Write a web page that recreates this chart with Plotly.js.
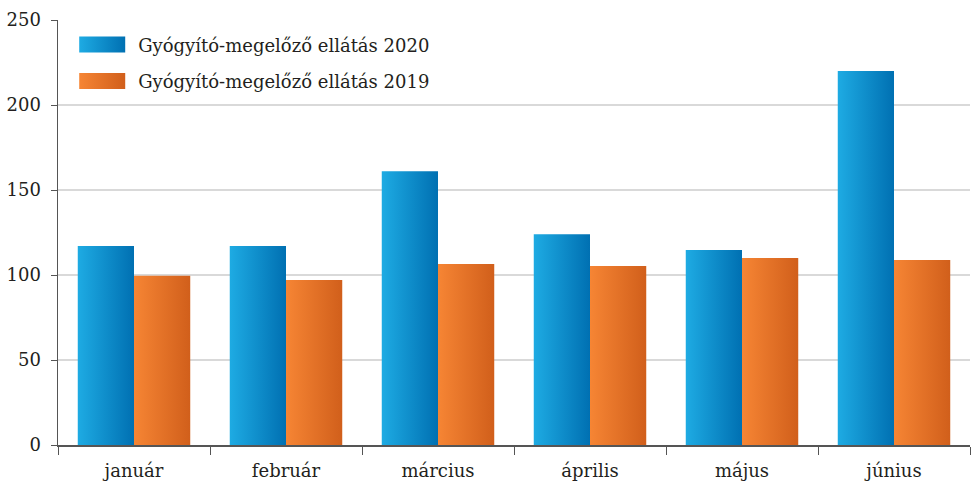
<!DOCTYPE html>
<html><head><meta charset="utf-8">
<script src="https://cdn.plot.ly/plotly-3.0.1.min.js"></script>
<style>body{margin:0;background:#fff}#chart{width:972px;height:482px}</style>
</head><body><div id="chart"></div>
<script>
const months = ["január","február","március","április","május","június"];
const series2020 = [117, 117, 161, 124, 114.7, 220];
const series2019 = [99.6, 97, 106.5, 105.3, 110, 108.8];
const names = ["Gyógyító-megelőző ellátás 2020","Gyógyító-megelőző ellátás 2019"];
const yTicks = [0,50,100,150,200,250];

const font = {family:"DejaVu Serif", size:18, color:"#231f20"};
const data = [
  {type:"bar", x:months, y:series2020, name:names[0], legendgroup:"a", marker:{color:"#0d8fd0"}},
  {type:"bar", x:months, y:series2019, name:names[1], legendgroup:"b", marker:{color:"#e4702a"}}
];
const layout = {
  width:972, height:482,
  margin:{l:58, r:2, t:20, b:37},
  font:font,
  paper_bgcolor:"#fff", plot_bgcolor:"#fff",
  barmode:"group", bargap:0.26, bargroupgap:0,
  showlegend:true,
  legend:{x:0.0112, y:0.985, xanchor:"left", yanchor:"top", font:font, bgcolor:"rgba(0,0,0,0)", itemwidth:60, traceorder:"grouped", tracegroupgap:10},
  xaxis:{showline:true, linecolor:"#555", linewidth:1.5, ticks:"outside", ticklen:8, tickcolor:"#555", tickson:"boundaries", showgrid:false, zeroline:false, tickfont:font, ticklabelstandoff:9},
  yaxis:{range:[0,250], tickvals:yTicks, ticktext:yTicks.map(String), showline:true, linecolor:"#555", linewidth:1.5, ticks:"outside", ticklen:6, tickcolor:"#555", gridcolor:"#d9d9d9", gridwidth:1.5, zeroline:false, tickfont:font, ticklabelstandoff:6}
};
Plotly.newPlot("chart", data, layout, {displayModeBar:false, staticPlot:true}).then(gd => {
  const svg = gd.querySelector("svg.main-svg");
  const ns = "http://www.w3.org/2000/svg";
  const defs = document.createElementNS(ns, "defs");
  const grads = [["g20","#1eabe3","#0070b2"],["g19","#f68534","#d15f1b"]];
  grads.forEach(([id,c1,c2]) => {
    const lg = document.createElementNS(ns, "linearGradient");
    lg.setAttribute("id", id); lg.setAttribute("x1","0"); lg.setAttribute("x2","1"); lg.setAttribute("y1","0"); lg.setAttribute("y2","0");
    [[0,c1],[1,c2]].forEach(([o,c]) => { const s=document.createElementNS(ns,"stop"); s.setAttribute("offset",o); s.setAttribute("stop-color",c); lg.appendChild(s); });
    defs.appendChild(lg);
  });
  svg.insertBefore(defs, svg.firstChild);
  gd.querySelectorAll(".barlayer .trace.bars").forEach((t,i) => {
    t.querySelectorAll("path").forEach(p => { p.style.fill = "url(#" + grads[i][0] + ")"; p.style.stroke = "none"; });
  });
  gd.querySelectorAll(".legend .traces").forEach((t,i) => {
    t.querySelectorAll(".legendpoints path").forEach(p => { p.setAttribute("d","M-24,-8h46v16h-46Z"); p.style.fill = "url(#" + grads[i][0] + ")"; p.style.stroke="none"; });
  });
});
</script></body></html>
